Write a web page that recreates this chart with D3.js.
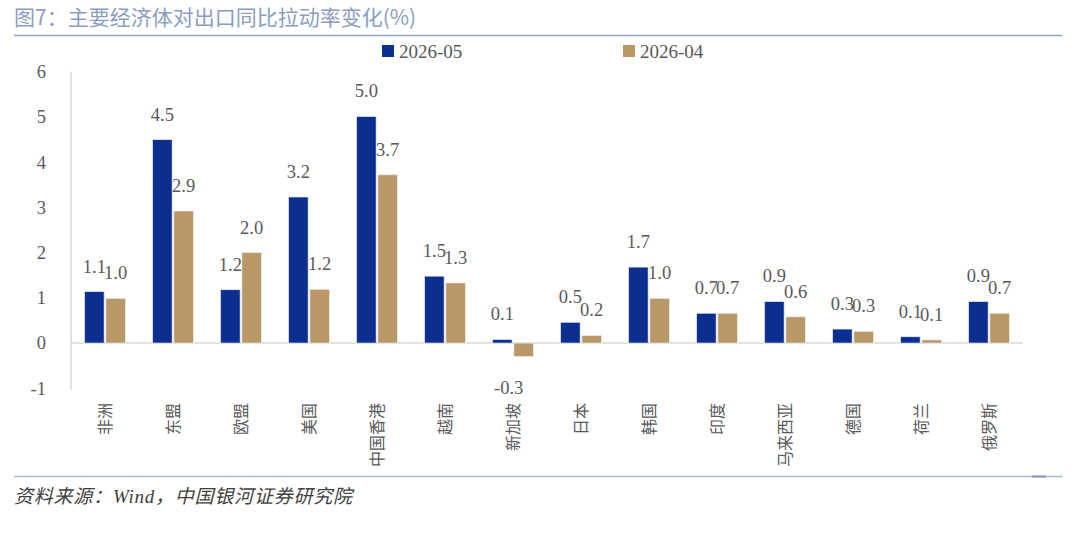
<!DOCTYPE html>
<html><head><meta charset="utf-8">
<script src="https://cdn.jsdelivr.net/npm/d3@7/dist/d3.min.js"></script>
<style>body{margin:0;background:#fff;}svg{display:block;}</style>
</head><body>
<svg id="c" width="1080" height="535"></svg>
<script>
const categories = ["非洲","东盟","欧盟","美国","中国香港","越南","新加坡","日本","韩国","印度","马来西亚","德国","荷兰","俄罗斯"];
const seriesNames = ["2026-05","2026-04"];
const may = [1.14,4.5,1.18,3.23,5.01,1.48,0.08,0.46,1.68,0.66,0.92,0.31,0.14,0.92];
const apr = [0.99,2.92,2.0,1.19,3.72,1.33,-0.3,0.17,0.99,0.66,0.58,0.26,0.07,0.66];
const yTicks = [-1,0,1,2,3,4,5,6];
const colors = ["#0A2F8E","#B99767"];
const titleText = "图7：主要经济体对出口同比拉动率变化(%)";
const sourceText = "资料来源：Wind，中国银河证券研究院";

const svg = d3.select("#c");
const serif = "'Liberation Serif','Times New Roman',serif";
const cjk = "'Noto Sans CJK SC','Noto Sans',sans-serif";
const fmt1 = v => v.toFixed(1);

// title and frame lines
svg.append("text").attr("x",14).attr("y",25).attr("font-family",cjk)
  .attr("font-size",21).attr("fill","#8C9DC2").text(titleText);
svg.append("line").attr("x1",14).attr("x2",1062).attr("y1",35.5).attr("y2",35.5)
  .attr("stroke","#8FA2CC").attr("stroke-width",1.5);
svg.append("line").attr("x1",14).attr("x2",1062).attr("y1",476.5).attr("y2",476.5)
  .attr("stroke","#A9B7D8").attr("stroke-width",1.5);
svg.append("line").attr("x1",1032).attr("x2",1046).attr("y1",476.5).attr("y2",476.5)
  .attr("stroke","#8397C4").attr("stroke-width",2);
svg.append("text").attr("x",14).attr("y",503).attr("font-family",serif+","+cjk)
  .attr("font-style","italic").attr("font-size",19).attr("fill","#404040")
  .attr("textLength",338).attr("lengthAdjust","spacing").text(sourceText);

const x0 = d3.scaleBand().domain(categories).range([71,1023]);
const bw = x0.bandwidth();
const x1 = d3.scaleBand().domain(seriesNames).range([bw/2-20.5, bw/2+20.5]).paddingInner(0.08);
const y = d3.scaleLinear().domain([-1,6]).range([388.3,71.7]);

// y axis
const yAxis = d3.axisLeft(y).tickValues(yTicks).tickSize(0).tickPadding(25).tickFormat(d => String(d));
const ga = svg.append("g").attr("transform","translate(71,0)").call(yAxis);
ga.select(".domain").attr("stroke","#D9D9D9").attr("stroke-width",1.5)
  .attr("d", `M0,${y(6)}V${y(-1.03)}`);
ga.selectAll("text").attr("font-family",serif).attr("font-size",18.5).attr("fill","#595959");

// zero line
svg.append("line").attr("x1",71).attr("x2",1023).attr("y1",y(0)).attr("y2",y(0))
  .attr("stroke","#D9D9D9").attr("stroke-width",1.5);

const data = categories.map((c,i)=>({c, vals:[{s:seriesNames[0],v:may[i]},{s:seriesNames[1],v:apr[i]}]}));
const groups = svg.append("g").selectAll("g").data(data).join("g")
  .attr("transform",d=>`translate(${x0(d.c)},0)`);
groups.selectAll("rect").data(d=>d.vals).join("rect")
  .attr("x",d=>x1(d.s)).attr("width",x1.bandwidth())
  .attr("y",d=>y(Math.max(0,d.v))).attr("height",d=>Math.abs(y(d.v)-y(0)))
  .attr("fill",(d,i)=>colors[i]).attr("stroke","#EEF0F6").attr("stroke-width",0.7);
groups.selectAll("text.lab").data(d=>d.vals).join("text").attr("class","lab")
  .attr("x",d=>x1(d.s)+x1.bandwidth()/2 + (d.v<0?-15:0))
  .attr("y",d=>d.v<0 ? y(d.v)+37 : y(d.v)-19)
  .attr("text-anchor","middle").attr("font-family",serif).attr("font-size",18.5)
  .attr("fill","#595959").text(d=>fmt1(d.v));

// x labels, rotated -90, top-anchored
svg.append("g").selectAll("text").data(categories).join("text")
  .attr("font-family",cjk).attr("font-size",16).attr("fill","#595959")
  .attr("text-anchor","end")
  .attr("transform",c=>`translate(${x0(c)+bw/2+6},403) rotate(-90)`)
  .text(c=>c);

// legend
const leg = [{s:seriesNames[0],x:382},{s:seriesNames[1],x:623}];
leg.forEach((l,i)=>{
  svg.append("rect").attr("x",l.x).attr("y",45).attr("width",12).attr("height",12).attr("fill",colors[i]);
  svg.append("text").attr("x",l.x+17).attr("y",57.5).attr("font-family",serif).attr("font-size",19)
    .attr("fill","#595959").text(l.s);
});
</script>
</body></html>
